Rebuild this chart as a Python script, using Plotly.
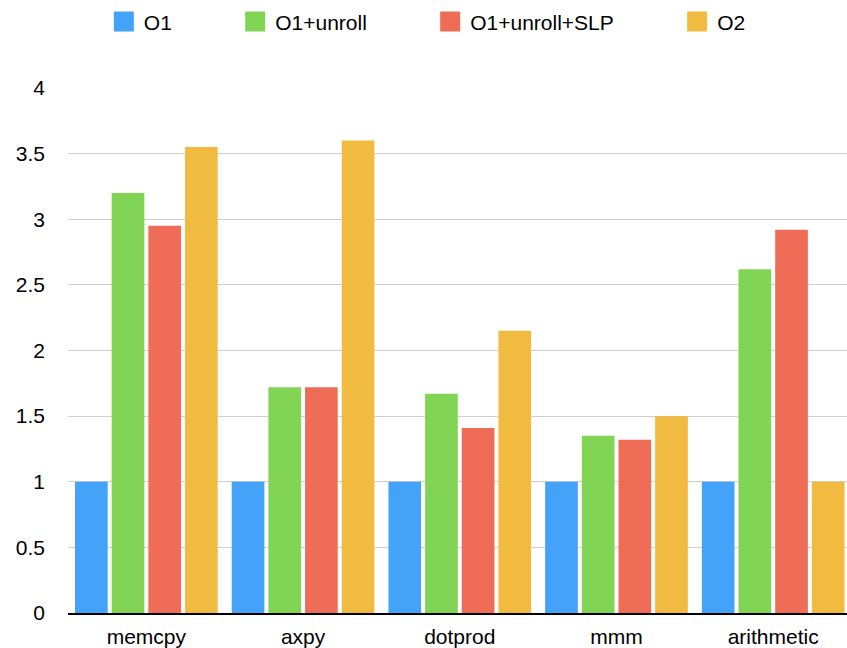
import plotly.graph_objects as go

categories = ["memcpy", "axpy", "dotprod", "mmm", "arithmetic"]
series_names = ["O1", "O1+unroll", "O1+unroll+SLP", "O2"]
o1 = [1.0, 1.0, 1.0, 1.0, 1.0]
o1_unroll = [3.2, 1.72, 1.67, 1.35, 2.62]
o1_unroll_slp = [2.95, 1.72, 1.41, 1.32, 2.92]
o2 = [3.55, 3.6, 2.15, 1.5, 1.0]
colors = ["#44A2F8", "#82D455", "#EF6D57", "#F0BB40"]
y_ticks = [0, 0.5, 1, 1.5, 2, 2.5, 3, 3.5, 4]
y_tick_labels = ["0", "0.5", "1", "1.5", "2", "2.5", "3", "3.5", "4"]

series_values = [o1, o1_unroll, o1_unroll_slp, o2]
pad = "\u00a0" * 10

fig = go.Figure()
for name, vals, col in zip(series_names, series_values, colors):
    fig.add_trace(go.Bar(x=categories, y=vals, name=name, marker_color=col,
                         marker_line_width=0, showlegend=False))
for i, (name, col) in enumerate(zip(series_names, colors)):
    fig.add_trace(go.Scatter(x=[None], y=[None], mode="markers", name=name + (pad if i < 3 else ""),
                             marker=dict(symbol="square", size=16, color=col,
                                         line=dict(width=4, color=col)),
                             showlegend=True))

FONT = "Liberation Sans, Arial, sans-serif"
fig.update_layout(
    width=847, height=648,
    margin=dict(l=68, r=0, t=88, b=35),
    paper_bgcolor="white", plot_bgcolor="white",
    barmode="group", bargap=0.064, bargroupgap=0.109,
    font=dict(family=FONT, size=21, color="#000000"),
    legend=dict(orientation="h", x=0.046, xanchor="left", y=1.126, yanchor="middle",
                font=dict(family=FONT, size=21, color="#000000"),
                bgcolor="rgba(0,0,0,0)", itemclick=False),
    xaxis=dict(range=[-0.5, 4.471], showline=True, linecolor="#000000", linewidth=2,
               showgrid=False, ticks="", tickfont=dict(size=21), ticklabelstandoff=4,
               fixedrange=True),
    yaxis=dict(range=[0, 4], tickvals=y_ticks, ticktext=y_tick_labels,
               showgrid=True, gridcolor="#D0D0D0", gridwidth=1, zeroline=False,
               showline=False, ticks="", ticklabelstandoff=22, tickfont=dict(size=21),
               fixedrange=True),
)

fig.write_html("out.html")
